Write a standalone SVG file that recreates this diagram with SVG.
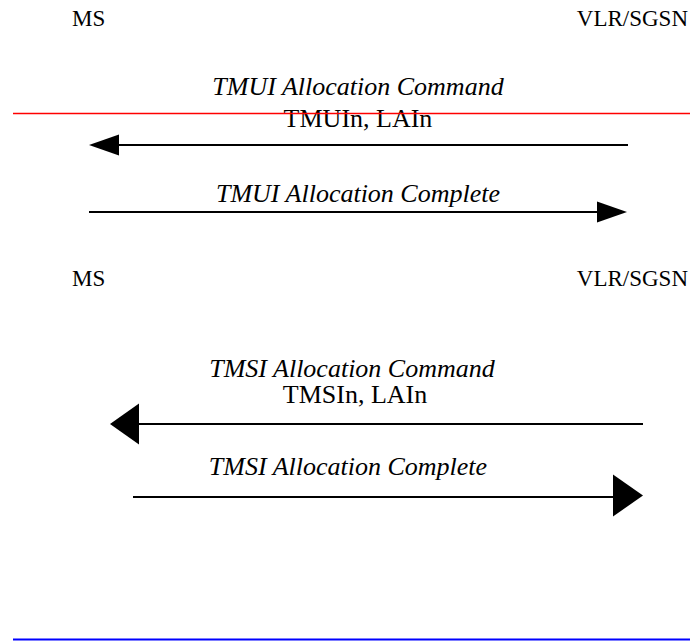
<svg xmlns="http://www.w3.org/2000/svg" width="690" height="641" viewBox="0 0 690 641">
  <style>
    .lbl { font-family: "Liberation Serif", "Times New Roman", serif; font-size: 23px; fill: #000; }
    .msg { font-family: "Liberation Serif", "Times New Roman", serif; font-size: 26px; fill: #000; text-anchor: middle; }
    .it { font-style: italic; }
    .line { stroke: #000; stroke-width: 2; fill: none; }
    .head { fill: #000; stroke: none; }
  </style>
  <rect width="690" height="641" fill="#fff"/>

  <g id="ms-1"><text class="lbl" x="72" y="26">MS</text></g>
  <g id="vlr-1"><text class="lbl" x="688" y="26" text-anchor="end">VLR/SGSN</text></g>

  <g id="msg-tmui-cmd">
    <text class="msg it" x="358" y="95">TMUI Allocation Command</text>
    <text class="msg" x="358" y="127">TMUIn, LAIn</text>
  </g>
  <g id="msg-tmui-complete">
    <text class="msg it" x="358" y="202">TMUI Allocation Complete</text>
  </g>

  <g id="ms-2"><text class="lbl" x="72" y="286">MS</text></g>
  <g id="vlr-2"><text class="lbl" x="688" y="286" text-anchor="end">VLR/SGSN</text></g>

  <g id="msg-tmsi-cmd">
    <text class="msg it" x="352" y="377">TMSI Allocation Command</text>
    <text class="msg" x="355" y="403">TMSIn, LAIn</text>
  </g>
  <g id="msg-tmsi-complete">
    <text class="msg it" x="348" y="475">TMSI Allocation Complete</text>
  </g>

  <g id="rules">
    <line x1="13" y1="113.5" x2="690" y2="113.5" stroke="#ff0000" stroke-width="1.5"/>
    <line x1="13" y1="639.5" x2="690" y2="639.5" stroke="#0000ff" stroke-width="2"/>
  </g>

  <g id="connectors">
    <line class="line" x1="628" y1="145" x2="115" y2="145"/>
    <polygon class="head" points="89,145 119,134.5 119,155.5"/>
    <line class="line" x1="89" y1="212" x2="600" y2="212"/>
    <polygon class="head" points="627,212 597,201.5 597,222.5"/>
    <line class="line" x1="643" y1="424" x2="135" y2="424"/>
    <polygon class="head" points="110,424 139,403.5 139,444.5"/>
    <line class="line" x1="133" y1="497" x2="616" y2="497"/>
    <polygon class="head" points="643,495.5 613,474.5 613,516.5"/>
  </g>
</svg>
